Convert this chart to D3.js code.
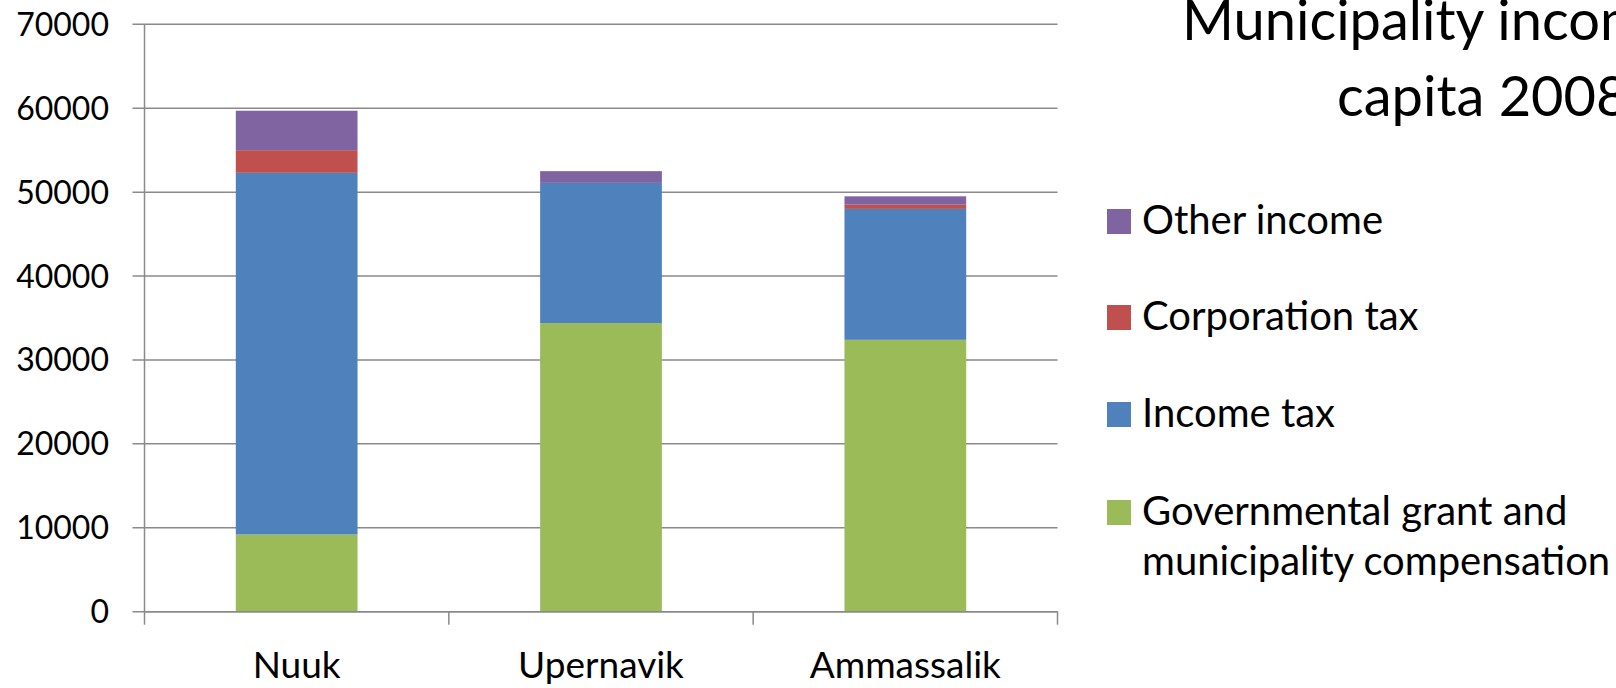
<!DOCTYPE html>
<html>
<head>
<meta charset="utf-8">
<script src="https://cdn.jsdelivr.net/npm/d3@7"></script>
<style>
  html, body { margin: 0; padding: 0; background: #fff; overflow: hidden; }
  svg { display: block; font-family: Lato, "Open Sans", sans-serif; }
</style>
</head>
<body>
<script>
// data (per capita, 2008)
const towns    = ["Nuuk", "Upernavik", "Ammassalik"];
const grant    = [9200, 34400, 32400];
const incomeTx = [43100, 16700, 15600];
const corpTx   = [2700, 0, 500];
const other    = [4700, 1400, 1000];
const yTicks   = [0, 10000, 20000, 30000, 40000, 50000, 60000, 70000];

const seriesNames = ["Governmental grant and municipality compensation", "Income tax", "Corporation tax", "Other income"];
const seriesKeys  = ["grant", "income", "corp", "other"];
const colors      = ["#9BBB59", "#4F81BD", "#C0504D", "#8064A2"];

const width = 1616, height = 688;
const plot = {left: 144.5, right: 1057.5, top: 24.3, bottom: 611.7};

const rows = towns.map((t, i) => ({town: t, grant: grant[i], income: incomeTx[i], corp: corpTx[i], other: other[i]}));

const svg = d3.select('body').append('svg')
  .attr('width', width)
  .attr('height', height);

const x = d3.scaleBand().domain(towns)
  .range([plot.left, plot.right])
  .paddingInner(0.6).paddingOuter(0.3);
const y = d3.scaleLinear().domain([0, 70000]).range([plot.bottom, plot.top]);

// grid lines
svg.append('g')
  .selectAll('line')
  .data(yTicks).enter().append('line')
  .attr('x1', plot.left - 12)
  .attr('x2', plot.right)
  .attr('y1', d => y(d))
  .attr('y2', d => y(d))
  .style('stroke', '#8a8a8a')
  .style('stroke-width', 1.5);

// y labels
svg.append('g')
  .selectAll('text')
  .data(yTicks).enter().append('text')
  .attr('x', 109)
  .attr('y', d => y(d))
  .attr('dy', '0.36em')
  .attr('text-anchor', 'end')
  .style('font-size', '32px')
  .style('fill', '#000')
  .text(d => d);

// stacked bars
const stacked = d3.stack().keys(seriesKeys)(rows);
svg.append('g')
  .selectAll('g')
  .data(stacked).enter().append('g')
  .style('fill', (d, i) => colors[i])
  .selectAll('rect')
  .data(d => d).enter().append('rect')
  .attr('x', d => x(d.data.town))
  .attr('width', x.bandwidth())
  .attr('y', d => y(d[1]))
  .attr('height', d => y(d[0]) - y(d[1]));

// y axis line
svg.append('line')
  .attr('x1', plot.left).attr('x2', plot.left)
  .attr('y1', plot.top).attr('y2', plot.bottom)
  .style('stroke', '#8a8a8a').style('stroke-width', 1.5);

// x axis line + category boundary ticks
svg.append('line')
  .attr('x1', plot.left).attr('x2', plot.right)
  .attr('y1', plot.bottom).attr('y2', plot.bottom)
  .style('stroke', '#8a8a8a').style('stroke-width', 1.5);

const step = x.step();
const bounds = d3.range(towns.length + 1).map(i => plot.left + i * step);
svg.append('g')
  .selectAll('line')
  .data(bounds).enter().append('line')
  .attr('x1', d => d).attr('x2', d => d)
  .attr('y1', plot.bottom).attr('y2', plot.bottom + 13)
  .style('stroke', '#8a8a8a').style('stroke-width', 1.5);

svg.append('g')
  .selectAll('text')
  .data(towns).enter().append('text')
  .attr('x', d => x(d) + x.bandwidth() / 2)
  .attr('y', 678)
  .attr('text-anchor', 'middle')
  .style('font-size', '37px')
  .text(d => d);

// title (runs off the right edge like the original)
const title = svg.append('g').style('font-size', '56px');
title.append('text').attr('x', 1182).attr('y', 40).text('Municipality income per');
title.append('text').attr('x', 1337).attr('y', 116).text('capita 2008');

// legend (top to bottom: reverse of the stack order)
const legendY = [234, 330, 427, 525];
const legend = svg.append('g')
  .selectAll('g')
  .data(seriesNames.map((n, i) => ({name: n, color: colors[i]})).reverse())
  .enter().append('g')
  .attr('transform', (d, i) => `translate(1107, ${legendY[i]})`);

legend.append('rect')
  .attr('x', 0).attr('y', -25)
  .attr('width', 24).attr('height', 25)
  .style('fill', d => d.color);

legend.append('text')
  .attr('x', 35).attr('y', 0)
  .style('font-size', '40px')
  .each(function (d) {
    const el = d3.select(this);
    if (d.name.startsWith('Governmental')) {
      el.append('tspan').attr('x', 35).attr('dy', 0).text('Governmental grant and');
      el.append('tspan').attr('x', 35).attr('dy', 50).text('municipality compensation');
    } else {
      el.text(d.name);
    }
  });
</script>
</body>
</html>
